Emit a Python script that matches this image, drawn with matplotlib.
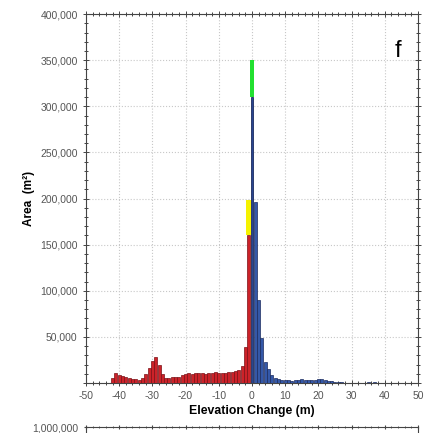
import matplotlib
matplotlib.use("Agg")
import matplotlib.pyplot as plt
from matplotlib.ticker import MultipleLocator, FuncFormatter

plt.rcParams["font.family"] = ["Liberation Sans", "DejaVu Sans"]
plt.rcParams["axes.unicode_minus"] = False

# elevation change bins (m) and areas (m^2)
NEG_X = list(range(-42, 0))
NEG_Y = [5000, 10500, 9000, 7500, 6000, 5000, 4000, 4000, 3500, 5000, 10000,
         16000, 24000, 28000, 20000, 10000, 5000, 5500, 6000, 6500, 7000, 8500,
         10000, 10500, 10000, 11000, 10500, 11000, 9500, 10500, 11000, 11500,
         11000, 10500, 11000, 11500, 12000, 13000, 14000, 18000, 39000, 160000]
POS_X = list(range(1, 40))
POS_Y = [196000, 90000, 49000, 23000, 15000, 9000, 5000, 4000, 3500, 3000,
         3000, 2500, 3000, 3500, 4500, 3500, 3000, 3000, 3500, 4000, 4000,
         3000, 2500, 2000, 1500, 1000, 800, 500, 0, 0, 300, 500, 500, 500,
         600, 500, 800, 500, 300]
ZERO_Y = 310000
GREEN_TOP = 350000      # highlighted cap on zero bin
YELLOW_TOP = 198000     # highlighted cap on -1 bin

fig = plt.figure(figsize=(4.3, 4.33), dpi=100)
ax = fig.add_axes([0.2, 0.1155, 0.772, 0.852])

ax.bar(NEG_X, NEG_Y, width=0.9, color="#cc2229", edgecolor="#7a1015", linewidth=0.5, zorder=3)
ax.bar(POS_X, POS_Y, width=0.9, color="#3458a8", edgecolor="#1b2b5e", linewidth=0.5, zorder=3)
ax.bar([0], [ZERO_Y], width=0.4, color="#2a4590", edgecolor="#1b2b5e", linewidth=0.6, zorder=3)
ax.bar([0], [GREEN_TOP - ZERO_Y], bottom=ZERO_Y, width=1.3, color="#22e030", linewidth=0, zorder=4)
ax.bar([-1.1], [YELLOW_TOP - NEG_Y[-1]], bottom=NEG_Y[-1], width=1.5, color="#f5f200", linewidth=0, zorder=4)

ax.set_xlim(-50, 50)
ax.set_ylim(0, 400000)
ax.xaxis.set_major_locator(MultipleLocator(10))
ax.xaxis.set_minor_locator(MultipleLocator(2))
ax.yaxis.set_major_locator(MultipleLocator(50000))
ax.yaxis.set_minor_locator(MultipleLocator(10000))
ax.yaxis.set_major_formatter(FuncFormatter(lambda v, p: "" if v == 0 else f"{int(v):,}"))
ax.tick_params(which="both", direction="inout", top=True, right=True,
               colors="#444444", labelsize=7.5, width=0.7)
ax.tick_params(which="major", length=5)
ax.tick_params(which="minor", length=3)
ax.tick_params(axis="both", labelcolor="#555555")
ax.grid(True, which="major", linestyle=":", color="#c8c8c8", linewidth=0.8, zorder=0)
for s in ax.spines.values():
    s.set_color("#444444")
    s.set_linewidth(0.8)

ax.set_xlabel("Elevation Change (m)", fontsize=8.8, fontweight="bold", labelpad=3)
ax.set_ylabel("Area  (m²)", fontsize=8.5, fontweight="bold", labelpad=4)
ax.text(0.95, 0.90, "f", transform=ax.transAxes, fontsize=17, ha="right", va="center")

# top of the next panel, cut off at the bottom edge
ax2 = fig.add_axes([0.2, -0.6, 0.772, 0.613])
ax2.set_xlim(-50, 50)
ax2.set_ylim(0, 1000000)
ax2.set_yticks([1000000])
ax2.yaxis.set_major_formatter(FuncFormatter(lambda v, p: f"{int(v):,}"))
ax2.xaxis.set_major_locator(MultipleLocator(10))
ax2.xaxis.set_minor_locator(MultipleLocator(2))
ax2.tick_params(which="both", direction="inout", top=True, labeltop=False,
                labelbottom=False, colors="#444444", labelsize=7.5)
ax2.tick_params(axis="y", labelcolor="#555555")
for s in ax2.spines.values():
    s.set_color("#444444")

fig.savefig("out.png", dpi=100)
